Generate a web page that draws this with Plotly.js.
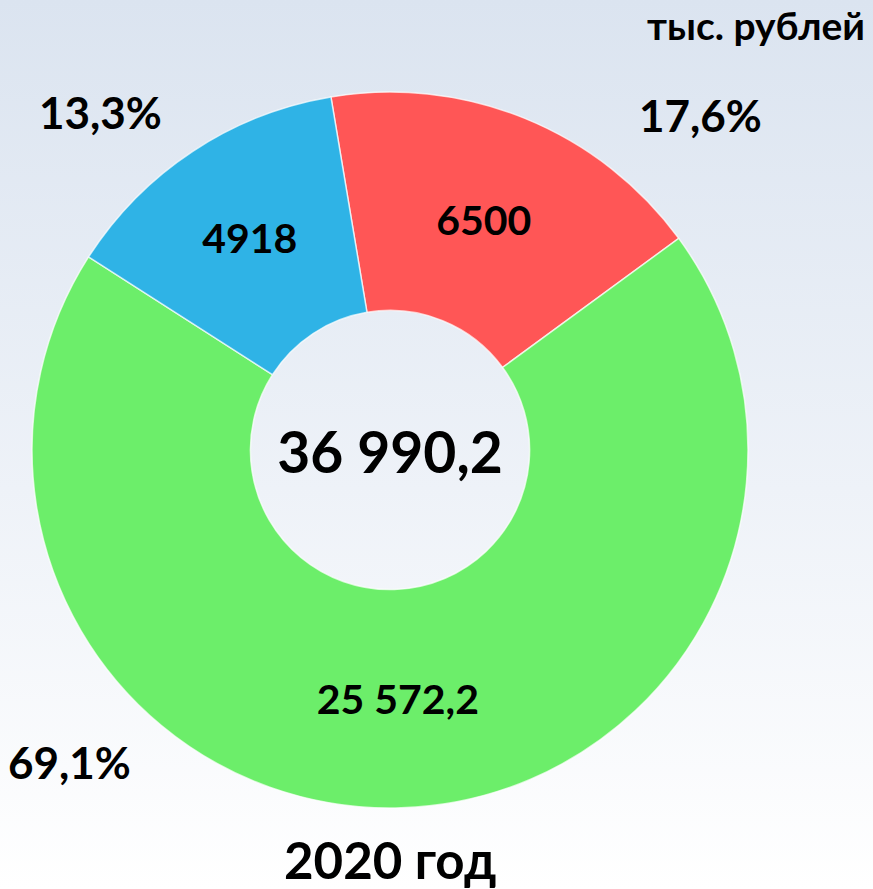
<!DOCTYPE html>
<html>
<head>
<meta charset="utf-8">
<script src="https://cdn.plot.ly/plotly-3.0.1.min.js"></script>
<style>
	html, body { margin: 0; padding: 0; }
	body { background: linear-gradient(to bottom, #dbe4f0 0%, #eef2f8 55%, #ffffff 100%); }
	#plot { width: 873px; height: 889px; }
</style>
</head>
<body>
<div id="plot"></div>
<script>
var parts = ['Красный', 'Зелёный', 'Синий'];
var values = [6500, 25572.2, 4918];
var valueLabels = ['6500', '25 572,2', '4918'];
var colors = ['#ff5656', '#6cee6a', '#2fb3e6'];
var year = '2020 год';
var units = 'тыс. рублей';

var FONT = 'Lato, "Open Sans", sans-serif';

function ruNumber(n, digits){
	var s = n.toFixed(digits).split('.');
	var whole = s[0].replace(/\B(?=(\d{3})+(?!\d))/g, ' ');
	return s.length > 1 ? whole + ',' + s[1] : whole;
}

var total = values.reduce((a, b) => a + b, 0);
var percents = values.map(v => ruNumber(v / total * 100, 1) + '%');

// where each percent label sits (paper coords), same order as parts
var pctPos = [
	{x: 0.802, y: 0.871},
	{x: 0.080, y: 0.143},
	{x: 0.115, y: 0.874}
];

var annotations = percents.map((p, i) => ({
	text: '<b>' + p + '</b>',
	x: pctPos[i].x, y: pctPos[i].y,
	xref: 'paper', yref: 'paper',
	xanchor: 'center', yanchor: 'middle',
	showarrow: false,
	font: {family: FONT, size: 44, color: '#000'}
}));

annotations.push({
	text: '<b>' + units + '</b>',
	x: 0.993, y: 0.972, xref: 'paper', yref: 'paper',
	xanchor: 'right', yanchor: 'middle', showarrow: false,
	font: {family: FONT, size: 39, color: '#000'}
});
annotations.push({
	text: '<b>' + year + '</b>',
	x: 0.447, y: 0.033, xref: 'paper', yref: 'paper',
	xanchor: 'center', yanchor: 'middle',
	showarrow: false,
	font: {family: FONT, size: 51, color: '#000'}
});

var data = [{
	type: 'pie',
	labels: parts,
	values: values,
	text: valueLabels,
	textinfo: 'text',
	textposition: 'inside',
	insidetextorientation: 'horizontal',
	textfont: {family: FONT, size: 41, color: '#000', weight: 'bold'},
	hole: 0.39,
	sort: false,
	direction: 'clockwise',
	rotation: -9.5,
	marker: {colors: colors, line: {color: 'rgba(255,255,255,0.7)', width: 1.5}},
	domain: {x: [0.0367, 0.8568], y: [0.0911, 0.8965]},
	title: {
		text: '<b>' + ruNumber(total, 1) + '</b>',
		position: 'middle center',
		font: {family: FONT, size: 57, color: '#000'}
	},
	showlegend: false,
	hoverinfo: 'label+value+percent'
}];

var layout = {
	width: 873,
	height: 889,
	margin: {l: 0, r: 0, t: 0, b: 0},
	paper_bgcolor: 'rgba(0,0,0,0)',
	plot_bgcolor: 'rgba(0,0,0,0)',
	showlegend: false,
	annotations: annotations
};

Plotly.newPlot('plot', data, layout, {displayModeBar: false});
</script>
</body>
</html>
